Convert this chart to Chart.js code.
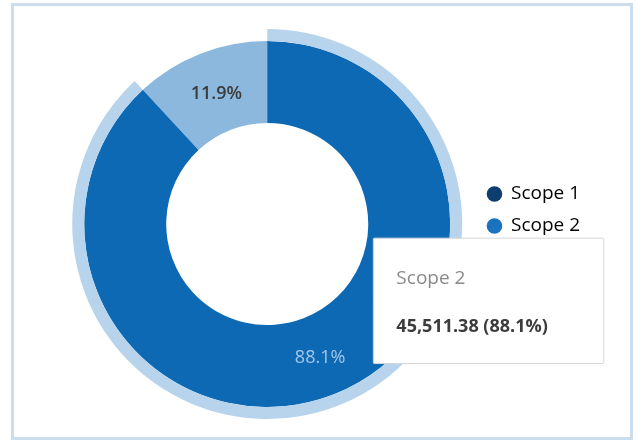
<!DOCTYPE html>
<html>
<head>
<meta charset="utf-8">
<script src="https://cdn.jsdelivr.net/npm/chart.js@4.4.1/dist/chart.umd.min.js"></script>
<style>
  html, body { margin: 0; padding: 0; background: #fff; }
  body { width: 638px; height: 444px; position: relative; overflow: hidden; }
  .frame { position: absolute; left: 11px; top: 3px; width: 616px; height: 431px; border: 3px solid #cadeee; }
  .chart-wrap { position: absolute; left: 0; top: 0; width: 638px; height: 444px; }
</style>
</head>
<body>
<div class="frame"></div>
<div class="chart-wrap"><canvas id="scopeChart"></canvas></div>
<script>
// --- DATA ---
const categories = ['Scope 1', 'Scope 2'];
const emissions = [6147.21, 45511.38];
const sliceColors = ['#8cb8de', '#0e69b5'];
const legendColors = ['#0e3e6f', '#1b72c0'];
const haloColors = ['rgba(0,0,0,0)', '#b8d4ec'];
const labelColors = ['#3b3b3b', '#a3c6ea'];
const focusedIndex = 1; // Scope 2 is the highlighted slice

const FONT = '"Open Sans", "Noto Sans", sans-serif';
Chart.defaults.font.family = FONT;

const total = emissions.reduce((a, b) => a + b, 0);
const pct = v => (v / total * 100).toFixed(1) + '%';

// percentage text in the middle of each slice of the main ring
const sliceLabels = {
    id: 'sliceLabels',
    afterDatasetsDraw(chart) {
        const ctx = chart.ctx;
        const meta = chart.getDatasetMeta(1);
        ctx.save();
        ctx.textAlign = 'center';
        ctx.textBaseline = 'middle';
        meta.data.forEach((arc, i) => {
            const p = arc.tooltipPosition();
            ctx.font = (i === 0 ? '600 ' : '500 ') + '18px ' + FONT;
            ctx.fillStyle = labelColors[i];
            ctx.fillText(pct(emissions[i]), p.x + 1, p.y + 2);
        });
        ctx.restore();
    }
};

// legend sits a little above the doughnut's centre line
const legendLift = {
    id: 'legendLift',
    afterLayout(chart) {
        chart.legend.top -= 14;
        chart.legend.bottom -= 14;
    }
};

// tooltip box to the lower right of the slice centre
Chart.Tooltip.positioners.besideSlice = function (items) {
    if (!items.length) return false;
    const arc = items[0].element;
    return { x: arc.x + arc.outerRadius * 0.58, y: arc.y + arc.outerRadius * 0.42 };
};

const chart = new Chart(document.getElementById('scopeChart'), {
    type: 'doughnut',
    data: {
        labels: categories,
        datasets: [
            {
                // thin halo ring around the focused slice
                data: emissions,
                backgroundColor: haloColors,
                hoverBackgroundColor: haloColors,
                borderWidth: 0,
                hoverBorderWidth: 0,
                hoverOffset: 0,
                weight: 12
            },
            {
                data: emissions,
                backgroundColor: sliceColors,
                hoverBackgroundColor: sliceColors,
                borderWidth: 0,
                hoverBorderWidth: 0,
                hoverOffset: 0,
                weight: 82
            }
        ]
    },
    options: {
        responsive: true,
        maintainAspectRatio: false,
        animation: false,
        events: [],
        cutout: '51.8%',
        rotation: -360 * emissions[0] / total,
        layout: { padding: { left: 60, right: 48, top: 29, bottom: 25 } },
        plugins: {
            legend: {
                position: 'right',
                labels: {
                    usePointStyle: true,
                    pointStyle: 'circle',
                    boxWidth: 14,
                    boxHeight: 11,
                    padding: 13,
                    color: '#3a3a3a',
                    font: { size: 19 },
                    generateLabels: () => categories.map((name, i) => ({
                        text: name,
                        fillStyle: legendColors[i],
                        strokeStyle: legendColors[i],
                        lineWidth: 0,
                        pointStyle: 'circle',
                        hidden: false,
                        index: i
                    }))
                }
            },
            tooltip: {
                position: 'besideSlice',
                xAlign: 'left',
                yAlign: 'center',
                caretSize: 0,
                caretPadding: 0,
                backgroundColor: '#fff',
                borderColor: '#d6d6d6',
                borderWidth: 1,
                cornerRadius: 1,
                padding: { left: 23, right: 56, top: 29, bottom: 26 },
                displayColors: false,
                titleColor: '#8a8a8a',
                titleFont: { size: 19, weight: 'normal' },
                titleMarginBottom: 26,
                bodyColor: '#3c3c3c',
                bodyFont: { size: 18, weight: 'bold' },
                filter: item => item.datasetIndex === 1,
                callbacks: {
                    title: items => items[0].label,
                    label: item => item.raw.toLocaleString('en-US', { minimumFractionDigits: 2, maximumFractionDigits: 2 }) +
                        ' (' + pct(item.raw) + ')'
                }
            }
        }
    },
    plugins: [sliceLabels, legendLift]
});

chart.tooltip.setActiveElements([{ datasetIndex: 1, index: focusedIndex }], { x: 0, y: 0 });
chart.update();
</script>
</body>
</html>
